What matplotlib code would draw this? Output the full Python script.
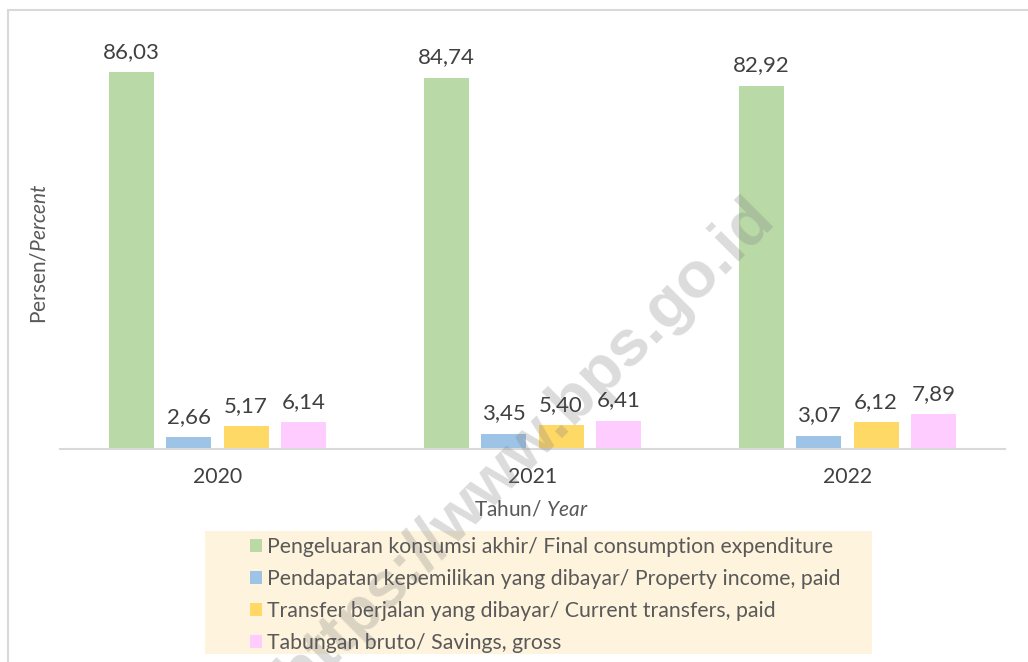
import matplotlib
matplotlib.use("Agg")
import matplotlib.pyplot as plt
import numpy as np
from matplotlib.patches import Rectangle, Patch

plt.rcParams['font.family'] = ['Lato', 'DejaVu Sans']
plt.rcParams['mathtext.fontset'] = 'custom'
plt.rcParams['mathtext.rm'] = 'Lato'
plt.rcParams['mathtext.it'] = 'Lato:italic'

years = ['2020', '2021', '2022']
series_names = [
    'Pengeluaran konsumsi akhir/ Final consumption expenditure',
    'Pendapatan kepemilikan yang dibayar/ Property income, paid',
    'Transfer berjalan yang dibayar/ Current transfers, paid',
    'Tabungan bruto/ Savings, gross',
]
consumption = [86.03, 84.74, 82.92]
property_income = [2.66, 3.45, 3.07]
current_transfers = [5.17, 5.40, 6.12]
savings = [6.14, 6.41, 7.89]
series_values = [consumption, property_income, current_transfers, savings]
colors = ['#B9D9A7', '#9DC3E6', '#FFD966', '#FFCCFF']

W, H = 1028, 662
fig = plt.figure(figsize=(W / 100, H / 100), dpi=100)

# outer border (top and left visible)
fig.add_artist(Rectangle((8 / W, -0.1), 1.2, (H - 10) / H + 0.1, transform=fig.transFigure,
                         fill=False, edgecolor='#D9D9D9', linewidth=1.5, zorder=-2))

# legend background (drawn before the axes so the watermark sits on top)
fig.add_artist(Rectangle((205 / W, 1 - 654 / H), (872 - 205) / W, (654 - 531) / H,
                         transform=fig.transFigure, facecolor='#FEF3DC', edgecolor='none',
                         zorder=-1))

ax = fig.add_axes([60 / W, 213 / H, 945 / W, 438 / H])
ax.patch.set_visible(False)
x = np.arange(len(years))
step = 57.3 / 315
bw = 45 / 315
label_color = '#404040'
for i, (vals, col) in enumerate(zip(series_values, colors)):
    pos = x + (i - 1.5) * step
    bars = ax.bar(pos, vals, width=bw, color=col, zorder=2)
    for b, v in zip(bars, vals):
        ax.annotate(f'{v:.2f}'.replace('.', ','), (b.get_x() + b.get_width() / 2, v),
                    xytext=(0, 7.5), textcoords='offset points', ha='center', va='bottom',
                    fontsize=16, color=label_color, zorder=4)

ax.set_xlim(-0.5, 2.5)
ax.set_ylim(0, 100)
ax.set_xticks(x)
ax.set_xticklabels(years, fontsize=15.3, color=label_color)
ax.tick_params(axis='x', length=0, pad=13)
ax.set_yticks([])
for s in ['top', 'right', 'left']:
    ax.spines[s].set_visible(False)
ax.spines['bottom'].set_color('#D9D9D9')
ax.spines['bottom'].set_linewidth(1.5)

# watermark (above bars, below texts)
ax.text(526 / W, 1 - 446 / H, 'https://www.bps.go.id', transform=fig.transFigure,
        ha='center', va='center', rotation=45, fontsize=47, fontweight='bold',
        family='Liberation Sans', color='#808080', alpha=0.28, zorder=3, clip_on=False)

fig.text(531 / W, 1 - 510 / H, r'Tahun/ $\mathit{Year}$', ha='center', va='center',
         fontsize=15, color='#595959')
fig.text(40 / W, 1 - 254 / H, r'Persen/$\mathit{Percent}$', ha='center', va='center',
         rotation=90, fontsize=15, color='#595959')

handles = [Patch(facecolor=c, edgecolor='none') for c in colors]
leg = fig.legend(handles, series_names, loc='upper left',
                 bbox_to_anchor=(250 / W, 1 - 537 / H), frameon=False,
                 fontsize=15.3, handlelength=0.55, handleheight=0.55, handletextpad=0.23,
                 labelspacing=0.56, borderpad=0, borderaxespad=0, labelcolor='#595959')

fig.savefig('out.png', dpi=100)
